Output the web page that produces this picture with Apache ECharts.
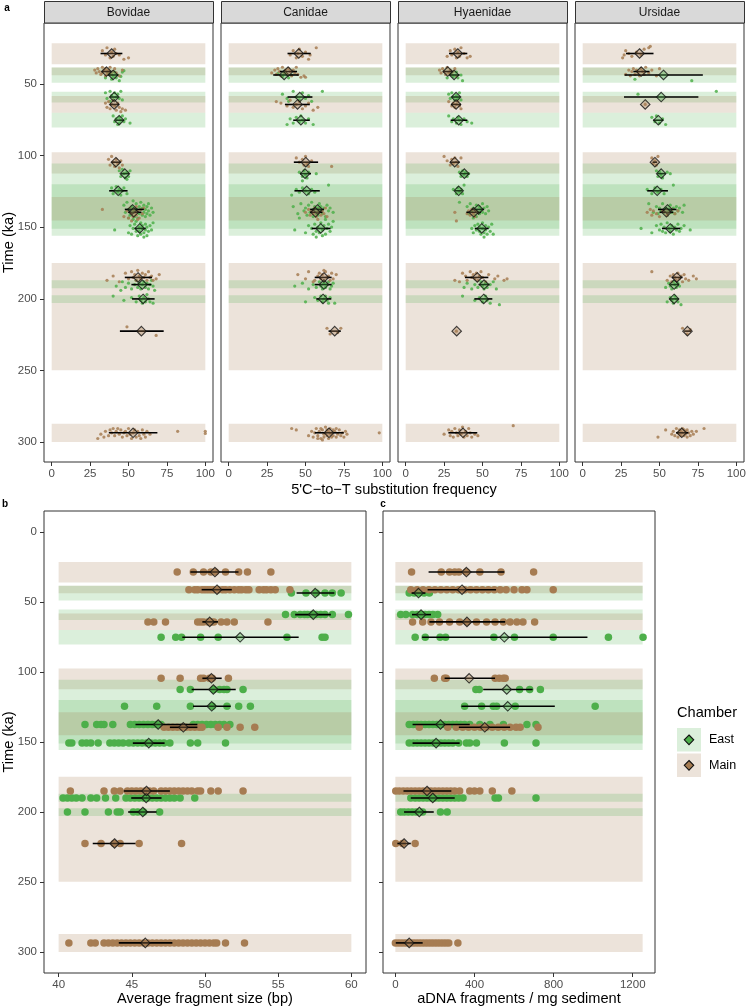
<!DOCTYPE html>
<html><head><meta charset="utf-8">
<script src="https://cdn.jsdelivr.net/npm/echarts@6/dist/echarts.min.js"></script>
<style>html,body{margin:0;padding:0;background:#fff}#c{width:746px;height:1008px}</style>
</head><body><div id="c"></div>
<script>
// ---------------- DATA ----------------
const facets = ['Bovidae','Canidae','Hyaenidae','Ursidae'];
const layerAges = [28.6, 41.2, 43.6, 59.0, 64.2, 75.2, 104.5, 112.5, 124.5, 137.5, 139.5, 150.8, 185.0, 190.0, 200.0, 222.5, 293.5];
const layerChamber = ['Main','Main','East','East','Main','East','Main','East','East','East','Main','East','Main','East','East','Main','Main'];

// background layer age ranges (ka)
const bandChamber = ['Main','Main','East','East','Main','East','Main','East','East','East','Main','East','Main','East','East','Main'];
const bandFrom = [21.5, 38.4, 38.4, 55.3, 58.2, 70.0, 97.5, 105.5, 120.0, 120.0, 128.8, 145.2, 174.9, 187.0, 197.4, 287.2];
const bandTo   = [36.1, 43.8, 49.0, 62.9, 70.0, 80.3, 112.4, 120.0, 145.2, 151.0, 145.2, 155.8, 249.8, 192.6, 202.9, 300.0];
const bandXa = [0, 100], bandXb = [40, 60], bandXc = [0, 1250];

// panel a: per layer, [C-to-T %, jitter in ka]
const bovidaePts = [
 [[33,-2],[35,1],[36,-4],[38,3],[39,-1],[40,2],[41,-3],[42,0],[44,1],[47,4],[50,3]],
 [[28,-1],[29,1],[30,-2],[31,0],[32,2],[33,-3],[33,1],[34,-1],[35,3],[35,-2],[36,0],[36,2],[37,-1],[38,1],[38,-3],[39,2],[40,0],[41,-2],[42,1],[44,3],[46,-1]],
 [[35,2],[37,-1],[39,3],[40,1],[41,-2],[42,2],[43,0],[44,4],[46,-2],[45,1],[47,-3]],
 [[35,-3],[36,1],[38,-4],[39,-1],[40,2],[41,-3],[42,0],[43,-2],[44,1],[45,-4],[46,2],[38,3]],
 [[35,-1],[36,2],[37,-2],[38,3],[39,0],[40,-3],[41,1],[42,4],[43,-1],[44,2],[45,5],[46,3],[48,4]],
 [[40,-3],[41,1],[42,-1],[43,3],[44,-2],[44,2],[45,0],[46,-3],[47,1],[48,-1],[51,2]],
 [[37,-2],[38,2],[39,-4],[40,0],[41,3],[42,-2],[43,1],[44,4],[45,-1],[46,2]],
 [[44,-2],[45,2],[46,-3],[47,0],[48,3],[49,-1],[50,2],[51,-2],[49,4]],
 [[39,-2],[40,2],[42,-3],[43,1],[44,-1],[45,3],[46,0],[47,-2],[49,2]],
 [[47,-3],[48,2],[49,-5],[50,0],[51,4],[52,-2],[52,3],[53,-6],[54,1],[54,5],[55,-1],[55,-4],[56,2],[56,6],[57,-2],[57,3],[58,0],[58,-5],[59,4],[59,-1],[60,2],[60,-3],[61,5],[61,0],[62,-2],[62,3],[63,-4],[63,1],[64,4],[65,-1],[66,2],[53,7],[50,6]],
 [[33,-2],[47,3],[49,-1],[50,4],[51,-3],[52,1],[53,-2],[53,3],[54,0],[55,-4],[55,2],[56,-1],[57,4],[58,-2],[59,1],[60,-3],[52,6],[56,5]],
 [[41,1],[50,3],[51,-2],[52,4],[53,0],[54,-3],[55,2],[55,-5],[56,5],[57,-1],[57,2],[58,-4],[58,4],[59,0],[59,-2],[60,3],[61,-3],[61,1],[62,5],[62,-1],[63,2],[64,-2],[65,1],[66,-4],[60,6]],
 [[36,2],[40,-1],[44,3],[48,-3],[50,1],[52,-4],[53,0],[54,-2],[55,2],[56,-5],[57,-1],[58,1],[59,-3],[60,0],[61,-2],[62,2],[63,-4],[64,0],[65,-1],[66,2],[68,1],[70,-2]],
 [[42,1],[46,-2],[48,2],[50,-1],[52,3],[54,0],[55,-3],[56,2],[57,-1],[58,3],[59,0],[60,-2],[61,2],[62,-1],[63,3],[64,0],[65,-3],[66,1],[67,4],[45,4]],
 [[40,-2],[47,1],[52,-1],[55,2],[57,-2],[58,1],[59,3],[60,-1],[61,2],[62,-3],[63,0],[64,2],[66,3]],
 [[49,-3],[68,3]],
 [[30,4],[32,1],[34,3],[35,-1],[37,2],[38,-2],[39,0],[40,-3],[41,2],[42,-1],[43,-3],[44,1],[45,-2],[46,3],[47,0],[48,-1],[49,2],[50,-3],[51,1],[52,4],[53,0],[54,-2],[55,3],[56,-1],[57,2],[58,4],[59,-2],[60,1],[61,3],[62,-1],[64,1],[82,-1],[100,-1],[100,0.5]]
];
const canidaePts = [
 [[40,1],[42,-2],[44,3],[45,0],[46,-3],[48,2],[50,-1],[52,4],[53,1],[57,-4]],
 [[28,1],[30,-1],[31,2],[32,-2],[33,0],[34,3],[35,-3],[36,1],[37,-1],[38,2],[39,-2],[40,0],[41,3],[42,-1],[43,1],[44,-3],[45,2],[47,4],[49,3],[50,4]],
 [[32,-1],[35,1],[37,-2],[39,2],[41,0]],
 [[35,-2],[38,1],[42,-4],[44,0],[46,2],[48,-3],[50,1],[52,-1],[54,3],[61,-4],[39,3]],
 [[31,-2],[34,-1],[38,1],[40,-3],[42,2],[44,0],[46,-2],[48,3],[50,1],[52,-1],[55,4],[58,2]],
 [[38,3],[40,-1],[42,2],[44,-2],[46,1],[47,-3],[48,0],[50,2],[52,-1],[55,3]],
 [[44,-3],[46,0],[48,-2],[49,2],[50,-4],[51,1],[52,3],[54,-1],[67,3]],
 [[46,-1],[48,2],[49,-2],[50,1],[51,3],[52,-1],[57,0],[48,5]],
 [[41,3],[44,-1],[46,1],[48,-2],[50,0],[52,2],[54,-1],[56,1],[65,-4]],
 [[42,-2],[45,3],[47,-4],[49,1],[50,-1],[51,4],[52,-3],[53,2],[54,-5],[55,0],[55,5],[56,-2],[57,3],[58,-1],[58,4],[59,-4],[60,1],[60,-2],[61,3],[62,-1],[63,5],[64,-3],[65,1],[66,-1],[68,2],[46,6],[63,7]],
 [[50,0],[52,-2],[53,2],[54,-1],[55,1],[56,-3],[57,3],[58,0],[59,-2],[60,2],[61,-1],[62,1],[63,-3],[64,3],[58,5]],
 [[43,1],[50,3],[52,-2],[54,0],[55,4],[56,-3],[57,2],[58,-1],[59,3],[60,-4],[61,1],[62,-2],[63,4],[64,0],[65,-3],[66,2],[67,-1],[68,-5],[61,5],[57,6]],
 [[45,-2],[50,1],[52,-4],[56,2],[58,-1],[59,-3],[60,1],[61,-2],[62,2],[63,-4],[64,0],[65,-1],[66,2],[67,-3],[68,1],[70,-2],[62,-5],[55,3]],
 [[43,1],[48,-1],[52,3],[55,0],[57,2],[59,-2],[60,1],[61,3],[62,-1],[63,2],[64,0],[65,-2],[66,3],[67,1],[68,-1]],
 [[50,2],[56,-1],[58,1],[60,-2],[61,2],[62,0],[63,-2],[64,1],[65,3],[66,-1],[69,3]],
 [[64,-2],[66,2],[71,1],[73,-2]],
 [[41,-3],[44,-2],[52,2],[54,-1],[55,3],[56,0],[57,-3],[58,2],[59,-1],[60,4],[61,-2],[62,1],[62,3],[63,-4],[63,0],[64,2],[64,-2],[65,4],[65,-1],[66,1],[66,-3],[67,3],[67,0],[68,-2],[68,2],[69,-1],[70,3],[70,-3],[71,1],[72,-2],[73,2],[74,0],[75,3],[76,-1],[77,1],[60,-3],[58,4],[61,5],[98,0]]
];
const hyaenidaePts = [
 [[27,2],[29,-2],[30,1],[32,-3],[33,3],[34,-1],[35,2],[36,-4],[38,0],[40,3],[42,2]],
 [[22,-1],[23,1],[24,-2],[25,0],[26,2],[27,-3],[28,1],[29,-1],[30,2],[31,0],[32,-2],[33,3]],
 [[27,2],[29,-1],[31,1],[33,-2],[34,2],[36,0],[37,4]],
 [[28,-2],[29,1],[30,-3],[31,0],[32,2],[33,-1],[34,1],[35,-3],[36,2]],
 [[28,-2],[30,1],[31,-1],[32,2],[33,0],[34,-2],[35,1],[36,3]],
 [[28,-3],[30,1],[31,-1],[33,2],[34,-2],[35,0],[36,3],[38,-1],[40,1],[43,2]],
 [[25,-4],[27,-1],[29,2],[30,-2],[31,1],[32,-3],[33,0],[34,3],[36,-3]],
 [[35,-1],[36,2],[37,-2],[38,1],[39,-1],[40,2],[41,0]],
 [[31,-1],[33,2],[34,-2],[35,1],[36,-1],[37,2],[38,-4]],
 [[35,-5],[40,-2],[41,3],[42,-4],[43,1],[44,-1],[45,4],[46,-3],[47,2],[48,-2],[48,3],[49,0],[50,-4],[50,2],[51,-1],[52,3],[53,-2],[54,1],[46,5],[44,6]],
 [[32,0],[33,6],[40,1],[41,-1],[42,2],[43,-2],[44,1],[45,3],[46,-1],[47,0]],
 [[43,0],[44,3],[45,-2],[46,1],[47,-3],[48,2],[48,-1],[49,4],[50,-4],[50,0],[51,3],[52,-2],[52,1],[53,4],[54,-1],[55,2],[56,-3],[57,4],[51,6]],
 [[32,2],[35,3],[37,-3],[39,-1],[40,2],[42,-4],[43,0],[44,-2],[45,1],[46,-3],[47,2],[48,-1],[49,-4],[50,0],[52,3],[54,-2],[58,1],[60,-1],[64,2],[66,1]],
 [[38,2],[40,-1],[43,3],[45,0],[47,2],[49,-2],[50,1],[51,3],[52,-1],[53,2],[55,0],[57,-2],[59,3]],
 [[37,-2],[45,1],[48,-1],[50,2],[52,-2],[53,1],[55,3],[61,4]],
 [[33,0]],
 [[25,1],[28,-2],[29,2],[30,-1],[31,3],[32,-3],[33,0],[34,2],[35,-2],[36,1],[37,-4],[38,3],[39,-1],[40,2],[41,-3],[42,0],[43,3],[45,1],[47,2],[70,-5]]
];
const ursidaePts = [
 [[26,3],[27,1],[28,-2],[30,0],[32,2],[35,-1],[38,1],[40,-3],[43,-4],[44,-5]],
 [[28,2],[30,-1],[31,3],[32,0],[33,-2],[34,2],[35,-1],[36,1],[37,3],[38,-2],[39,0],[40,2],[41,-3],[43,1],[45,-1],[48,3],[50,-2]],
 [[71,4],[34,3]],
 [[87,-4],[36,-2]],
 [[40.7,0]],
 [[45,-2],[47,1],[48,-3],[50,2],[52,-1],[54,3]],
 [[45,-3],[46,1],[47,-1],[48,2],[49,-4]],
 [[48,-2],[49,2],[50,-1],[51,1],[52,3],[55,-1],[57,0]],
 [[42,-1],[45,2],[47,-2],[49,1],[51,-1],[53,2],[59,-4]],
 [[43,-4],[46,2],[48,-2],[49,3],[50,-1],[51,1],[52,-4],[53,2],[54,-1],[55,4],[56,0],[57,-3],[58,2],[59,-1],[60,3],[61,-2],[62,1],[63,-1],[65,2],[66,-3]],
 [[42,0],[44,-2],[45,2],[46,-1],[48,1],[50,3],[52,-1],[55,2],[58,-2],[60,1],[62,-1]],
 [[38,0],[45,3],[48,-2],[50,1],[51,-3],[52,2],[53,-1],[54,3],[55,-4],[56,0],[57,2],[58,-2],[59,4],[60,-1],[61,1],[62,-3],[63,2],[64,0],[66,-2],[70,1]],
 [[45,-4],[55,2],[57,-1],[58,3],[59,-2],[60,0],[61,2],[62,-3],[63,1],[64,-1],[65,3],[66,-2],[67,1],[69,2],[72,-1],[74,1]],
 [[54,2],[56,-1],[57,1],[58,3],[59,-2],[60,0],[61,2],[62,-1],[63,1]],
 [[55,2],[57,-1],[58,1],[59,3],[60,-2],[61,0],[62,2],[64,4]],
 [[65,-2],[68,2],[70,-1]],
 [[49,3],[54,-2],[58,1],[59,-1],[60,2],[61,-3],[62,0],[62,3],[63,-2],[63,1],[64,-1],[64,2],[65,-3],[65,0],[66,2],[66,-2],[67,1],[67,-1],[68,3],[68,-2],[69,0],[70,2],[71,-1],[72,1],[74,-1],[79,-3]]
];
const bovidaeMean = [39, 35.7, 40, 40.7, 40.7, 43.9, 41.8, 47.6, 43.3, 52.6, 53.4, 57.3, 56.2, 59, 59.5, 58.4, 53];
const bovidaeLo   = [31.8, 32.4, 36.8, 37.9, 37.9, 41.5, 39, 45.1, 37.4, 47.6, 49.8, 54, 47.6, 51.9, 52.3, 44.4, 37.2];
const bovidaeHi   = [46, 38.9, 43.3, 43.3, 44, 47, 44.8, 50.5, 49.4, 60, 58.4, 61.2, 65.3, 64.9, 67, 72.9, 68.8];
const canidaeMean = [45.6, 38.7, 36.1, 46.3, 44.8, 47, 50.2, 49.7, 50.8, 57.8, 56.5, 59.9, 62, 62, 61.4, 69, 65.3];
const canidaeLo   = [38.3, 33.3, 29, 38.3, 36.6, 42, 42.4, 46.4, 42.8, 53, 53, 54, 56, 56, 57, 65, 56];
const canidaeHi   = [53.4, 44.5, 45.6, 54.5, 52.8, 52.8, 58.2, 53.6, 59.3, 62, 61, 66.3, 67, 67, 66.8, 73, 74.9];
const hyaenidaeMean = [33.9, 27.4, 31.5, 32.8, 32.8, 34.5, 31.9, 38.2, 34.5, 47.3, 44.3, 49.5, 46.6, 51, 50.8, 33.2, 37.3];
const hyaenidaeLo   = [28.2, 24.5, 28.5, 30, 29.5, 29.3, 29, 35.5, 32, 43, 39.5, 45, 38.6, 47.5, 44.7, null, 27.8];
const hyaenidaeHi   = [40.1, 30.5, 35, 35.5, 36, 40.1, 35, 41, 37, 51, 49, 54, 53.8, 54.5, 56.4, null, 46.6];
const ursidaeMean = [37, 38.1, 52.6, 51.1, 40.7, 49.2, 47, 51.1, 48.5, 55.2, 54.5, 57, 61.3, 59.5, 59.5, 68.2, 64.5];
const ursidaeLo   = [28.2, 33, 27.3, 26.9, null, 46, 45.5, 48.5, 42, 49, 50, 51.6, 58, 57, 56.5, 66, 60.8];
const ursidaeHi   = [46.1, 43.5, 78.2, 75.3, null, 52.5, 48.5, 54, 55.5, 61, 59, 63.5, 65, 62.5, 62.5, 70.5, 68.8];

// panel b: average fragment size (bp)
const sizePts = [
 [48.1, 49.2, 49.9, 50.4, 50.7, 51.4, 52.3, 52.9, 54.5],
 [48.9, 49.3, 49.5, 49.8, 50.0, 50.2, 50.4, 50.6, 50.9, 51.2, 51.4, 51.7, 52.0, 52.3, 52.5, 52.8, 53.0, 53.7, 54.0, 54.2, 54.5, 54.8, 55.8],
 [55.9, 56.9, 57.6, 58.2, 58.7, 59.3],
 [55.5, 56.1, 56.5, 56.8, 57.0, 57.3, 57.6, 57.9, 58.2, 58.7, 59.8],
 [46.1, 46.5, 47.3, 49.5, 49.7, 49.9, 50.2, 50.4, 50.6, 51.1, 51.5, 52.0, 54.3],
 [47.0, 48.0, 48.4, 49.7, 50.9, 55.6, 58.0, 58.2],
 [47.0, 48.3, 49.7, 49.9, 50.3, 50.5, 51.6],
 [48.3, 49.0, 50.6, 51.0, 51.3, 51.5, 52.6],
 [44.5, 46.7, 49.0, 50.5, 51.5, 52.3, 53.1],
 [41.8, 42.6, 42.9, 43.1, 43.7, 44.9, 45.2, 45.5, 45.8, 46.1, 46.4, 46.7, 47.0, 49.2, 49.5, 49.8, 50.1, 50.4, 50.7, 51.0, 51.3, 51.7],
 [47.2, 47.5, 47.8, 48.1, 48.4, 48.7, 49.0, 49.3, 49.6, 49.8, 50.9, 51.5, 52.4, 53.4],
 [40.7, 40.9, 41.6, 41.9, 42.2, 42.7, 43.5, 43.8, 44.1, 44.4, 44.8, 45.1, 45.4, 45.7, 46.0, 46.3, 46.6, 46.9, 47.2, 47.6, 49.0, 49.5, 51.4],
 [40.8, 43.1, 43.8, 44.2, 44.7, 45.0, 45.3, 45.6, 45.9, 46.2, 46.5, 47.0, 47.3, 47.6, 47.9, 48.2, 48.5, 48.8, 49.1, 49.5, 49.7, 50.4, 50.9, 52.6],
 [40.3, 40.6, 40.9, 41.2, 41.6, 42.2, 42.6, 43.2, 43.9, 44.6, 44.9, 45.2, 45.5, 45.8, 46.1, 46.4, 46.7, 47.0, 47.3, 47.6, 47.9, 48.3, 49.3],
 [40.6, 41.8, 43.4, 44.0, 44.2, 45.1, 45.4, 45.8, 46.9],
 [41.8, 42.9, 43.8, 44.2, 45.5, 48.4],
 [40.7, 42.2, 42.5, 43.1, 43.4, 43.7, 44.0, 44.3, 44.6, 44.9, 45.2, 45.5, 45.8, 46.1, 46.4, 46.7, 47.0, 47.3, 47.6, 47.9, 48.2, 48.5, 48.8, 49.1, 49.4, 49.7, 50.0, 50.3, 50.6, 50.8, 51.4, 52.7]
];
const sizeMean = [50.68, 50.82, 57.53, 57.4, 50.32, 52.4, 50.44, 50.57, 50.46, 46.8, 48.52, 46.16, 46.0, 45.98, 45.75, 43.82, 45.92];
const sizeLo   = [49.0, 49.77, 56.26, 56.16, 49.82, 48.45, 49.82, 49.09, 49.18, 45.25, 47.6, 45.07, 44.45, 44.96, 44.75, 42.33, 44.11];
const sizeHi   = [52.29, 51.83, 58.84, 58.6, 50.89, 56.4, 51.14, 52.1, 51.76, 49.48, 49.48, 47.24, 47.6, 47.03, 46.69, 45.25, 47.77];

// panel c: aDNA fragments / mg sediment
const dnaPts = [
 [82, 232, 274, 300, 321, 359, 427, 534, 699],
 [78, 110, 140, 170, 200, 230, 260, 290, 320, 350, 380, 410, 440, 470, 500, 530, 560, 600, 640, 665, 798],
 [70, 95, 120, 145, 172],
 [27, 53, 87, 110, 130, 150, 170, 190, 214],
 [87, 138, 180, 223, 274, 325, 362, 410, 461, 504, 546, 580, 614, 645, 704],
 [100, 151, 226, 254, 498, 602, 798, 1077, 1252],
 [197, 249, 257, 504, 525, 545, 555],
 [407, 424, 628, 679, 733],
 [350, 436, 495, 512, 606, 1010],
 [70, 90, 110, 130, 150, 170, 190, 210, 230, 250, 270, 290, 310, 330, 350, 376, 427, 478, 546, 665, 711],
 [121, 265, 308, 340, 370, 400, 430, 460, 490, 520, 550, 580, 610, 631, 721],
 [70, 90, 110, 130, 150, 170, 190, 210, 230, 250, 270, 290, 320, 359, 376, 410, 551, 711],
 [2, 20, 40, 60, 80, 100, 120, 140, 160, 180, 200, 220, 240, 260, 280, 300, 325, 376, 400, 427, 490, 589],
 [78, 100, 120, 140, 160, 180, 200, 220, 240, 260, 280, 300, 320, 342, 504, 521, 711],
 [27, 45, 65, 85, 105, 138, 228, 262],
 [2, 36, 100],
 [0, 15, 30, 45, 60, 75, 90, 105, 120, 135, 150, 165, 180, 195, 210, 225, 240, 255, 270, 316]
];
const dnaMean = [359, 337, 117, 130, 362, 551, 373, 563, 568, 228, 452, 206, 160, 189, 121, 44, 70];
const dnaLo   = [168, 163, 82, 84, 172, 135, 249, 444, 334, 87, 321, 87, 41, 78, 44, 10, 2];
const dnaHi   = [551, 509, 152, 180, 555, 971, 504, 694, 806, 376, 580, 325, 283, 300, 194, 78, 138];

const timeTicks = [0, 50, 100, 150, 200, 250, 300];
const ctTicks = [0, 25, 50, 75, 100];
const sizeTicks = [40, 45, 50, 55, 60];
const dnaTicks = [0, 400, 800, 1200];

// ---------------- STYLE / BUILD ----------------
const FONT = '"Liberation Sans", Arial, Helvetica, sans-serif';
const COL = {East: '#4DAF4A', Main: '#A67C52'};
const BAND = {East: 'rgba(77,175,74,0.2)', Main: 'rgba(166,124,82,0.21)'};
const DIA = {East: 'rgba(77,175,74,0.45)', Main: 'rgba(166,124,82,0.45)'};
const plain = v => String(v);

const grids = [], xAxes = [], yAxes = [], series = [];
function addGrid(left, top, width, height, xr, xt, yr, yLabels, yTicks) {
  const i = grids.length;
  const yt = timeTicks.filter(v => v >= yr[0] && v <= yr[1]);
  grids.push({left, top, width, height, show: true, borderColor: '#333', borderWidth: 1,
    backgroundColor: '#fff', containLabel: false, outerBoundsMode: 'none'});
  xAxes.push({type: 'value', gridIndex: i, min: xr[0], max: xr[1], position: 'bottom',
    axisLine: {show: false, onZero: false}, splitLine: {show: false},
    axisTick: {show: true, inside: false, length: 4, lineStyle: {color: '#333', width: 1}, customValues: xt},
    axisLabel: {show: true, margin: 6, color: '#4d4d4d', fontSize: 11.5, fontFamily: FONT, customValues: xt, formatter: plain}});
  yAxes.push({type: 'value', gridIndex: i, min: yr[0], max: yr[1], inverse: true, position: 'left',
    axisLine: {show: false, onZero: false}, splitLine: {show: false},
    axisTick: {show: yTicks, inside: false, length: 4, lineStyle: {color: '#333', width: 1}, customValues: yt},
    axisLabel: {show: yLabels, margin: 7, color: '#4d4d4d', fontSize: 11.5, fontFamily: FONT, customValues: yt, formatter: plain}});
  return i;
}
function addContent(gi, bandX, ptsByLayer, mean, lo, hi, ptSize, ptOpacity, hasJitter) {
  const bandData = bandFrom.map((f, k) => [f, bandTo[k], bandChamber[k] === 'East' ? 1 : 0]);
  series.push({type: 'custom', xAxisIndex: gi, yAxisIndex: gi, z: 1, silent: true, data: bandData,
    renderItem: (p, api) => {
      const a = api.coord([bandX[0], api.value(0)]), b = api.coord([bandX[1], api.value(1)]);
      return {type: 'rect', shape: {x: a[0], y: a[1], width: b[0] - a[0], height: b[1] - a[1]},
        style: {fill: api.value(2) === 1 ? BAND.East : BAND.Main}};
    }});
  ['East', 'Main'].forEach(ch => {
    const d = [];
    ptsByLayer.forEach((arr, L) => {
      if (layerChamber[L] !== ch) return;
      arr.forEach(v => { if (hasJitter) d.push([v[0], layerAges[L] + v[1]]); else d.push([v, layerAges[L]]); });
    });
    series.push({type: 'scatter', xAxisIndex: gi, yAxisIndex: gi, z: 2, silent: true, data: d,
      symbol: 'circle', symbolSize: ptSize, itemStyle: {color: COL[ch], opacity: ptOpacity}});
  });
  const eb = [];
  mean.forEach((m, L) => { if (lo[L] != null) eb.push([lo[L], hi[L], layerAges[L]]); });
  series.push({type: 'custom', xAxisIndex: gi, yAxisIndex: gi, z: 3, silent: true, data: eb,
    renderItem: (p, api) => {
      const a = api.coord([api.value(0), api.value(2)]), b = api.coord([api.value(1), api.value(2)]);
      return {type: 'line', shape: {x1: a[0], y1: a[1], x2: b[0], y2: b[1]}, style: {stroke: '#000', lineWidth: 1.6}};
    }});
  ['East', 'Main'].forEach(ch => {
    const d = [];
    mean.forEach((m, L) => { if (layerChamber[L] === ch && m != null) d.push([m, layerAges[L]]); });
    series.push({type: 'scatter', xAxisIndex: gi, yAxisIndex: gi, z: 4, silent: true, data: d,
      symbol: 'diamond', symbolSize: 9.5, itemStyle: {color: DIA[ch], borderColor: '#111', borderWidth: 1.1}});
  });
}

const aPts = [bovidaePts, canidaePts, hyaenidaePts, ursidaePts];
const aMean = [bovidaeMean, canidaeMean, hyaenidaeMean, ursidaeMean];
const aLo = [bovidaeLo, canidaeLo, hyaenidaeLo, ursidaeLo];
const aHi = [bovidaeHi, canidaeHi, hyaenidaeHi, ursidaeHi];
const facetLeft = [44, 221, 398, 575];
const graphics = [];
facets.forEach((f, k) => {
  const gi = addGrid(facetLeft[k], 23, 169, 439, [-5, 105], ctTicks, [7.3, 313.9], k === 0, k === 0);
  addContent(gi, bandXa, aPts[k], aMean[k], aLo[k], aHi[k], 3.2, 0.85, true);
  graphics.push({type: 'rect', shape: {x: facetLeft[k] + 0.5, y: 1.5, width: 169, height: 21.5},
    style: {fill: '#d9d9d9', stroke: '#333', lineWidth: 1}, z: 10});
  graphics.push({type: 'text', x: facetLeft[k] + 84.5, y: 12.5, z: 11,
    style: {text: f, fontSize: 12, fontFamily: FONT, fill: '#1a1a1a', align: 'center', verticalAlign: 'middle'}});
});
const gb = addGrid(44, 511, 322, 462, [39, 61], sizeTicks, [-15, 315], true, true);
addContent(gb, bandXb, sizePts, sizeMean, sizeLo, sizeHi, 7.5, 1, false);
const gc = addGrid(383, 511, 272, 462, [-62.5, 1312.5], dnaTicks, [-15, 315], false, true);
addContent(gc, bandXc, dnaPts, dnaMean, dnaLo, dnaHi, 7.5, 1, false);

function txt(t, x, y, size, extra) {
  const st = Object.assign({text: t, fontSize: size, fontFamily: FONT, fill: '#000', align: 'center', verticalAlign: 'middle'}, extra || {});
  return {type: 'text', x, y, z: 12, style: st};
}
graphics.push(txt('a', 7, 8, 10, {fontWeight: 'bold'}));
graphics.push(txt('b', 5, 504, 10, {fontWeight: 'bold'}));
graphics.push(txt('c', 383, 504, 10, {fontWeight: 'bold'}));
const t1 = txt('Time (ka)', 9, 242.5, 14.6); t1.rotation = Math.PI / 2; graphics.push(t1);
const t2 = txt('Time (ka)', 9, 742, 14.6); t2.rotation = Math.PI / 2; graphics.push(t2);
graphics.push(txt("5'C\u2212to\u2212T substitution frequency", 394, 490, 14.6));
graphics.push(txt('Average fragment size (bp)', 205, 999, 14.6));
graphics.push(txt('aDNA fragments / mg sediment', 519, 999, 14.6));
// legend
graphics.push(txt('Chamber', 677, 713, 14.6, {align: 'left'}));
[['East', 728], ['Main', 753.5]].forEach(([ch, y]) => {
  graphics.push({type: 'rect', z: 12, shape: {x: 677, y: y, width: 24, height: 23.5}, style: {fill: BAND[ch]}});
  graphics.push({type: 'polygon', z: 13, shape: {points: [[689, y + 7], [693.7, y + 11.8], [689, y + 16.6], [684.3, y + 11.8]]},
    style: {fill: COL[ch], stroke: '#111', lineWidth: 1.1}});
  graphics.push(txt(ch, 709, y + 12, 12.5, {align: 'left'}));
});

const chart = echarts.init(document.getElementById('c'), null, {renderer: 'canvas'});
chart.setOption({animation: false, backgroundColor: '#fff', grid: grids, xAxis: xAxes, yAxis: yAxes, series, graphic: graphics});
</script></body></html>
